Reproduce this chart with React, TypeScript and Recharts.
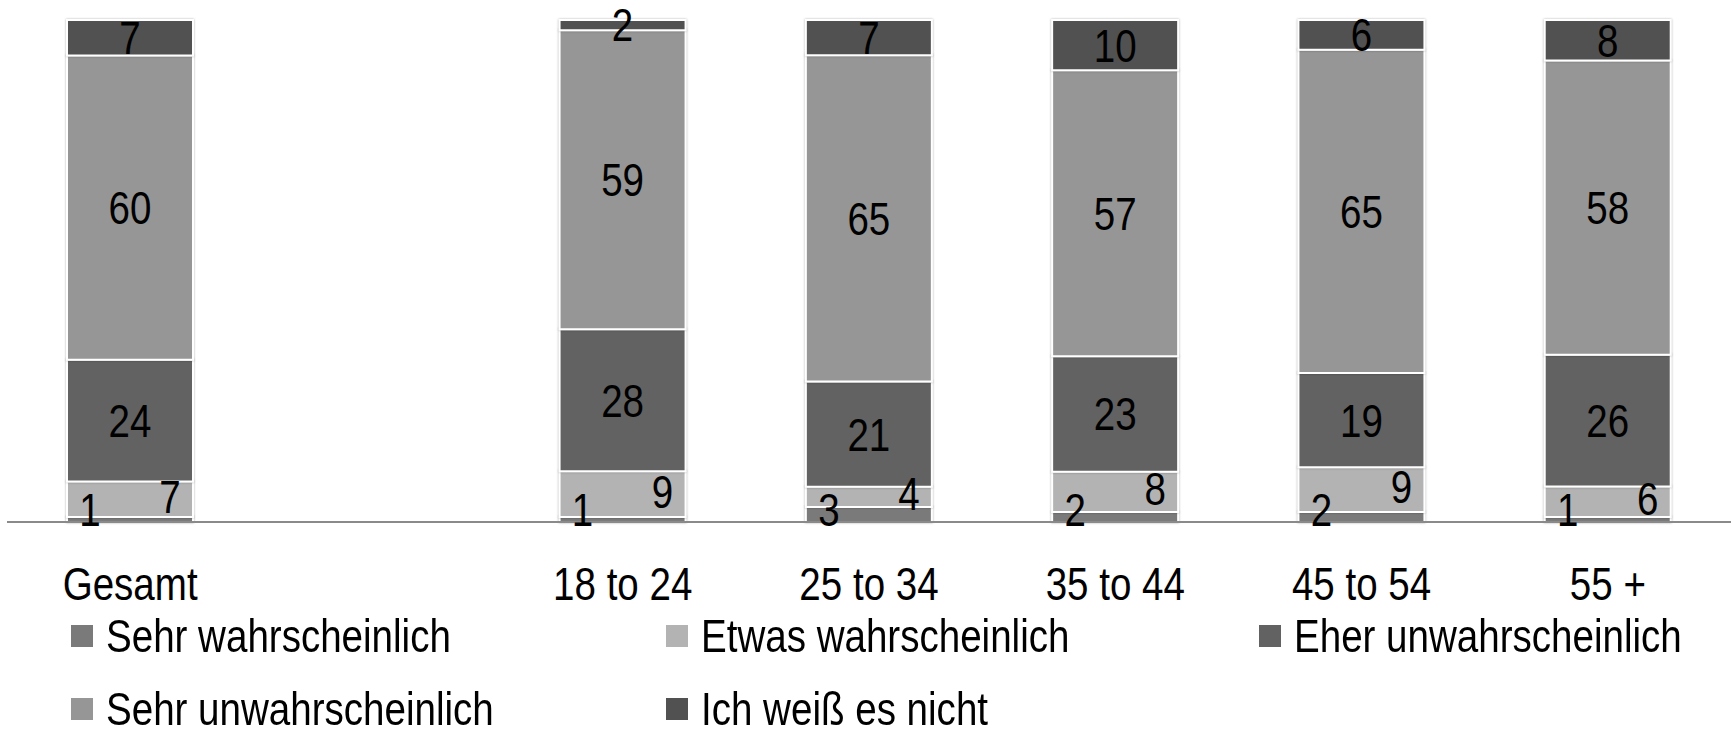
import { BarChart, Bar, XAxis, YAxis, LabelList, Legend } from "recharts";

const FONT = "'Liberation Sans', Arial, sans-serif";
// Liberation Sans horizontal gestaucht, damit es wie Arial Narrow läuft
const NARROW = 0.82;

// Altersgruppen, mit einer leeren Lücke nach "Gesamt"
const categories = ["Gesamt", "", "18 to 24", "25 to 34", "35 to 44", "45 to 54", "55 +"];

const sehrWahrscheinlich = [1, null, 1, 3, 2, 2, 1];
const etwasWahrscheinlich = [7, null, 9, 4, 8, 9, 6];
const eherUnwahrscheinlich = [24, null, 28, 21, 23, 19, 26];
const sehrUnwahrscheinlich = [60, null, 59, 65, 57, 65, 58];
const weissNicht = [7, null, 2, 7, 10, 6, 8];

const seriesNames = [
  "Sehr wahrscheinlich",
  "Etwas wahrscheinlich",
  "Eher unwahrscheinlich",
  "Sehr unwahrscheinlich",
  "Ich weiß es nicht",
];
const seriesColors = ["#7a7a7a", "#b3b3b3", "#626262", "#969696", "#515151"];

const data = categories.map((name, i) => ({
  name,
  s0: sehrWahrscheinlich[i],
  s1: etwasWahrscheinlich[i],
  s2: eherUnwahrscheinlich[i],
  s3: sehrUnwahrscheinlich[i],
  s4: weissNicht[i],
}));

type Box = { x: number; y: number; width: number; height: number };

const boxOf = (p: any): Box => {
  const v = p.viewBox ?? p;
  return { x: +v.x, y: +v.y, width: +v.width, height: +v.height };
};

const NarrowText = ({ x, y, children }: { x: number; y: number; children: any }) => (
  <text
    transform={`translate(${x} ${y}) scale(${NARROW} 1)`}
    textAnchor="middle"
    dominantBaseline="central"
    fontFamily={FONT}
    fontSize={47}
    fill="#000"
  >
    {children}
  </text>
);

// Standard: mittig im Segment
const centerLabel = (p: any) => {
  if (p.value == null) return null;
  const b = boxOf(p);
  return <NarrowText x={b.x + b.width / 2} y={b.y + b.height / 2}>{p.value}</NarrowText>;
};

// "Etwas wahrscheinlich": rechts im Segment
const rightLabel = (p: any) => {
  if (p.value == null) return null;
  const b = boxOf(p);
  return <NarrowText x={b.x + b.width / 2 + 40} y={b.y + b.height / 2 - 3}>{p.value}</NarrowText>;
};

// "Sehr wahrscheinlich": links, knapp über der Achse
const leftLabel = (p: any) => {
  if (p.value == null) return null;
  const b = boxOf(p);
  return <NarrowText x={b.x + b.width / 2 - 40} y={b.y + b.height - 12}>{p.value}</NarrowText>;
};

const labelRenderers = [leftLabel, rightLabel, centerLabel, centerLabel, centerLabel];

const CategoryTick = (p: any) => (
  <NarrowText x={p.x} y={p.y + 60}>{p.payload.value}</NarrowText>
);

const legendCols = [71, 666, 1259];
const legendRows = [17, 90];

const LegendContent = () => (
  <div style={{ position: "relative", width: 1731, height: 140, fontFamily: FONT, fontSize: 47, color: "#000" }}>
    {seriesNames.map((name, i) => (
      <div
        key={name}
        style={{
          position: "absolute",
          left: legendCols[i % 3],
          top: legendRows[Math.floor(i / 3)],
          height: 47,
          lineHeight: "47px",
          display: "flex",
          alignItems: "center",
          whiteSpace: "nowrap",
        }}
      >
        <span style={{ display: "inline-block", width: 22, height: 22, background: seriesColors[i], marginRight: 13 }} />
        <span style={{ display: "inline-block", transform: `scaleX(${NARROW})`, transformOrigin: "0 50%" }}>
          {name}
        </span>
      </div>
    ))}
  </div>
);

export default function App() {
  return (
    <div style={{ width: 1731, height: 735, background: "#fff", overflow: "hidden" }}>
      <style>{`
        body { margin: 0; }
        .recharts-bar-rectangles { filter: drop-shadow(0 0 1.2px rgba(0, 0, 0, 0.3)); }
      `}</style>
      <BarChart
        width={1731}
        height={735}
        data={data}
        stackOffset="expand"
        barSize={126}
        margin={{ top: 20, right: 0, left: 7, bottom: 0 }}
      >
        <XAxis
          dataKey="name"
          interval={0}
          tickLine={false}
          tickSize={0}
          height={73}
          axisLine={{ stroke: "#8a8a8a", strokeWidth: 2 }}
          tick={CategoryTick}
        />
        <YAxis hide domain={[0, 1]} />
        <Legend
          verticalAlign="bottom"
          height={140}
          wrapperStyle={{ left: 0, width: 1731 }}
          content={LegendContent}
        />
        {seriesNames.map((name, i) => (
          <Bar
            key={name}
            dataKey={`s${i}`}
            name={name}
            stackId="a"
            fill={seriesColors[i]}
            stroke="#fff"
            strokeWidth={2}
            isAnimationActive={false}
          >
            <LabelList dataKey={`s${i}`} content={labelRenderers[i]} />
          </Bar>
        ))}
      </BarChart>
    </div>
  );
}
